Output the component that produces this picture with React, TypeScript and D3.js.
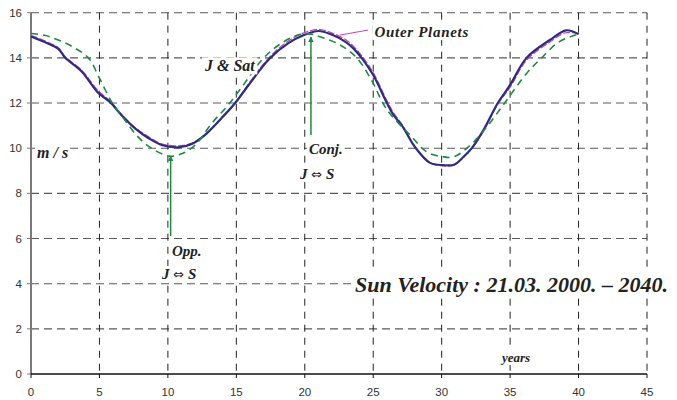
import React, { useLayoutEffect, useRef, useState } from 'react';
import * as d3 from 'd3';

// tick values
const xTicks = [0, 5, 10, 15, 20, 25, 30, 35, 40, 45];
const yTicks = [0, 2, 4, 6, 8, 10, 12, 14, 16];

// Sun velocity (m/s), J & Sat
const blueYears = [0, 1, 2, 2.5, 3.7, 4.9, 5.8, 6.6, 7.6, 8.6, 9.6, 10.75, 11.75, 12.7, 13.9, 14.9, 15.9, 17.4, 18.8, 19.9, 21.0, 22.0, 23.0, 23.55, 24.15, 25.0, 26.0, 26.5, 27.1, 28.05, 29.15, 30.1, 30.9, 31.6, 32.2, 33.05, 34.1, 35.0, 36.2, 37.9, 39.1, 40.0];
const blueVel = [14.95, 14.7, 14.4, 14.0, 13.4, 12.46, 12.03, 11.47, 10.88, 10.44, 10.13, 10.04, 10.19, 10.58, 11.32, 11.99, 12.8, 13.95, 14.65, 15.0, 15.19, 15.02, 14.7, 14.42, 14.0, 13.24, 12.0, 11.45, 11.0, 10.05, 9.35, 9.25, 9.27, 9.62, 10.0, 10.8, 12.0, 12.8, 14.0, 14.79, 15.22, 15.05];

// Outer planets
const pinkYears = [0, 1, 2, 2.5, 3.7, 4.9, 5.8, 6.6, 7.6, 8.6, 9.6, 10.75, 11.75, 12.7, 13.9, 14.9, 15.9, 17.4, 18.8, 19.9, 21.0, 22.0, 23.0, 23.55, 24.15, 25.0, 26.0, 26.5, 27.1, 28.05, 29.15, 30.1, 30.9, 31.6, 32.2, 33.05, 34.1, 35.0, 36.2, 37.9, 39.1, 40.0];
const pinkVel = [15.0, 14.75, 14.45, 14.05, 13.45, 12.55, 12.08, 11.5, 10.92, 10.5, 10.18, 10.1, 10.22, 10.6, 11.3, 11.98, 12.85, 14.02, 14.75, 15.1, 15.26, 15.1, 14.8, 14.52, 14.1, 13.35, 12.1, 11.55, 11.05, 10.08, 9.35, 9.22, 9.25, 9.6, 9.98, 10.75, 11.95, 12.7, 13.9, 14.7, 15.12, 15.05];

// Jupiter-Saturn sinusoid
const greenYears = [0, 1.0, 2.0, 3.0, 4.19, 5.0, 5.94, 6.85, 7.8, 8.8, 10.1, 11.0, 12.0, 13.2, 14.4, 15.6, 16.85, 18.1, 19.5, 20.5, 21.1, 22.5, 23.8, 25.0, 25.7, 26.3, 27.7, 28.9, 30.1, 30.9, 32.1, 33.3, 34.6, 36.2, 37.3, 38.6, 40.0];
const greenVel = [15.08, 15.0, 14.79, 14.5, 14.0, 13.1, 12.0, 11.25, 10.51, 10.0, 9.65, 9.75, 10.14, 11.1, 11.91, 12.87, 13.9, 14.57, 15.01, 15.05, 14.94, 14.6, 14.0, 12.87, 12.0, 11.47, 10.58, 9.84, 9.62, 9.62, 10.14, 10.95, 12.0, 13.31, 14.0, 14.72, 15.05];

const W = 677, H = 400;
const serif = '"Liberation Serif", "Times New Roman", serif';
const sans = '"Liberation Sans", Arial, sans-serif';

function BoxedText(props: any) {
  const ref = useRef<SVGTextElement>(null);
  const [box, setBox] = useState<any>(null);
  useLayoutEffect(() => {
    if (ref.current) setBox(ref.current.getBBox());
  }, []);
  const pad = props.pad ?? 2;
  return (
    <g>
      {box && <rect x={box.x - pad} y={box.y} width={box.width + 2 * pad} height={box.height} fill="white" />}
      <text ref={ref} x={props.x} y={props.y} fontFamily={serif} fontStyle="italic" fontWeight="bold"
        fontSize={props.size} fill="#222" letterSpacing={props.spacing || 0}>
        {props.children}
      </text>
    </g>
  );
}

// J <=> S label, arrow glyph from DejaVu
const JS = () => (
  <>
    J <tspan fontFamily='"DejaVu Sans", sans-serif' fontStyle="normal" fontWeight="normal" fontSize={13}>⇔</tspan> S
  </>
);

export default function App() {
  const x = d3.scaleLinear().domain([0, 45]).range([31, 647]);
  const y = d3.scaleLinear().domain([0, 16]).range([374, 12.7]);

  const line = (xs: number[], ys: number[]) =>
    d3.line<number>().x((d, i) => x(xs[i])).y((d) => y(d)).curve(d3.curveCatmullRom.alpha(0.5))(ys) || '';

  const green = '#1d8a40';

  return (
    <svg width={W} height={H} style={{ position: 'absolute', left: 0, top: 0, background: 'white' }}>
      <defs>
        <marker id="arr" viewBox="0 0 10 10" refX="9" refY="5" markerWidth="6" markerHeight="7" orient="auto" markerUnits="userSpaceOnUse">
          <path d="M0,0 L10,5 L0,10 z" fill={green} />
        </marker>
      </defs>
      <rect width={W} height={H} fill="white" />

      {/* horizontal grid */}
      {yTicks.filter((t) => t > 0).map((t) => (
        <line key={'h' + t} x1={x(0)} x2={x(45)} y1={y(t)} y2={y(t)} stroke="#5a5a5a" strokeWidth={1.1} strokeDasharray="8,5" />
      ))}
      {/* vertical grid */}
      {xTicks.filter((t) => t > 0).map((t) => (
        <line key={'v' + t} x1={x(t)} x2={x(t)} y1={y(16)} y2={y(0)} stroke="#222" strokeWidth={1} strokeDasharray="7,6" />
      ))}

      {/* axes */}
      <line x1={x(0)} x2={x(0)} y1={y(16)} y2={y(0)} stroke="#7a7a7a" strokeWidth={2} />
      {yTicks.map((t) => (
        <line key={'yt' + t} x1={x(0) - 4} x2={x(0)} y1={y(t)} y2={y(t)} stroke="#7a7a7a" strokeWidth={1} />
      ))}
      <line x1={x(0)} x2={x(45)} y1={y(0)} y2={y(0)} stroke="#111" strokeWidth={1.5} />
      {xTicks.map((t) => (
        <line key={'xt' + t} x1={x(t)} x2={x(t)} y1={y(0)} y2={y(0) + 4} stroke="#111" strokeWidth={1} />
      ))}
      {yTicks.map((t) => (
        <text key={'yl' + t} x={22} y={y(t)} dy="0.35em" textAnchor="end" fontFamily={sans} fontSize={11.5} fill="#333">{t}</text>
      ))}
      {xTicks.map((t) => (
        <text key={'xl' + t} x={x(t)} y={396} textAnchor="middle" fontFamily={sans} fontSize={11.5} fill="#333">{t}</text>
      ))}

      {/* series */}
      <path d={line(pinkYears, pinkVel)} fill="none" stroke="#c548a8" strokeWidth={1.3} strokeDasharray="7,2" />
      <path d={line(blueYears, blueVel)} fill="none" stroke="#2d2d80" strokeWidth={2.2} />
      <path d={line(greenYears, greenVel)} fill="none" stroke={green} strokeWidth={1.6} strokeDasharray="7,5" />

      {/* arrows */}
      <line x1={x(20.45)} x2={x(20.45)} y1={y(10.58)} y2={y(14.92)} stroke={green} strokeWidth={1.5} markerEnd="url(#arr)" />
      <line x1={x(10.2)} x2={x(10.2)} y1={y(6.11)} y2={y(9.65)} stroke={green} strokeWidth={1.5} markerEnd="url(#arr)" />

      {/* Outer planets leader */}
      <line x1={x(22.57)} x2={x(24.62)} y1={y(15.01)} y2={y(15.23)} stroke="#c548a8" strokeWidth={1} />

      <BoxedText x={x(12.71)} y={y(13.4)} size={16}>J &amp; Sat</BoxedText>
      <BoxedText x={x(25.09)} y={y(14.92)} size={15} spacing={0.7}>Outer  Planets</BoxedText>
      <BoxedText x={x(0.44)} y={y(9.57)} size={16}>m / s</BoxedText>
      <BoxedText x={x(20.3)} y={y(9.74)} size={15}>Conj.</BoxedText>
      <BoxedText x={x(19.65)} y={y(8.64)} size={15}><JS /></BoxedText>
      <BoxedText x={x(10.3)} y={y(5.23)} size={15}>Opp.</BoxedText>
      <BoxedText x={x(9.57)} y={y(4.21)} size={15}><JS /></BoxedText>
      <BoxedText x={x(23.67)} y={y(3.63)} size={22}>Sun Velocity  : 21.03. 2000. – 2040.</BoxedText>
      <BoxedText x={x(34.4)} y={y(0.53)} size={13} pad={0}>years</BoxedText>
    </svg>
  );
}
